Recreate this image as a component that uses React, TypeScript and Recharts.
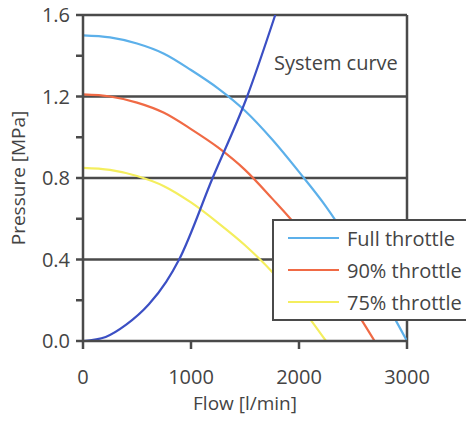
import {
  LineChart,
  Line,
  XAxis,
  YAxis,
  ReferenceLine,
  Label,
} from "recharts";

type Pt = { flow: number; pressure: number };

const fullThrottle: Pt[] = [
  { flow: 0, pressure: 1.5 },
  { flow: 250, pressure: 1.49 },
  { flow: 500, pressure: 1.46 },
  { flow: 750, pressure: 1.41 },
  { flow: 1000, pressure: 1.33 },
  { flow: 1250, pressure: 1.24 },
  { flow: 1500, pressure: 1.13 },
  { flow: 1750, pressure: 0.99 },
  { flow: 2000, pressure: 0.83 },
  { flow: 2250, pressure: 0.66 },
  { flow: 2500, pressure: 0.46 },
  { flow: 2750, pressure: 0.24 },
  { flow: 3000, pressure: 0.0 },
];

const throttle90: Pt[] = [
  { flow: 0, pressure: 1.21 },
  { flow: 250, pressure: 1.2 },
  { flow: 500, pressure: 1.17 },
  { flow: 750, pressure: 1.12 },
  { flow: 1000, pressure: 1.04 },
  { flow: 1250, pressure: 0.95 },
  { flow: 1500, pressure: 0.84 },
  { flow: 1750, pressure: 0.7 },
  { flow: 2000, pressure: 0.55 },
  { flow: 2250, pressure: 0.37 },
  { flow: 2500, pressure: 0.17 },
  { flow: 2700, pressure: 0.0 },
];

const throttle75: Pt[] = [
  { flow: 0, pressure: 0.85 },
  { flow: 250, pressure: 0.84 },
  { flow: 500, pressure: 0.81 },
  { flow: 750, pressure: 0.76 },
  { flow: 1000, pressure: 0.68 },
  { flow: 1250, pressure: 0.58 },
  { flow: 1500, pressure: 0.47 },
  { flow: 1750, pressure: 0.34 },
  { flow: 2000, pressure: 0.18 },
  { flow: 2250, pressure: 0.0 },
];

const systemCurve: Pt[] = [
  { flow: 0, pressure: 0.0 },
  { flow: 210, pressure: 0.02 },
  { flow: 400, pressure: 0.08 },
  { flow: 610, pressure: 0.18 },
  { flow: 770, pressure: 0.29 },
  { flow: 890, pressure: 0.4 },
  { flow: 1200, pressure: 0.8 },
  { flow: 1520, pressure: 1.2 },
  { flow: 1780, pressure: 1.6 },
];

const flowTicks = [0, 1000, 2000, 3000];
const pressureTicks = [0, 0.2, 0.4, 0.6, 0.8, 1.0, 1.2, 1.4, 1.6];
const gridLevels = [0.4, 0.8, 1.2, 1.6];

const seriesInfo = [
  { name: "Full throttle", color: "#5cb0ea" },
  { name: "90% throttle", color: "#f06a45" },
  { name: "75% throttle", color: "#f4ee5e" },
];

const axisColor = "#4a4a4a";
const textColor = "#444";
const font = "'Open Sans', sans-serif";
const fs = 20;

const PressureTick = (props: any) => {
  const { x, y, payload } = props;
  const v = payload.value as number;
  const major = Math.abs(Math.round(v * 10) % 4) === 0;
  if (!major) return null;
  return (
    <text
      x={x}
      y={y}
      dy={7}
      textAnchor="end"
      fill={textColor}
      fontSize={fs}
      fontFamily={font}
    >
      {v.toFixed(1)}
    </text>
  );
};

const PressureTitle = (props: any) => {
  const vb = props.viewBox;
  const cy = vb.y + vb.height / 2;
  return (
    <text
      x={25}
      y={cy}
      transform={`rotate(-90, 25, ${cy})`}
      textAnchor="middle"
      fill={textColor}
      fontSize={19}
      fontFamily={font}
    >
      Pressure [MPa]
    </text>
  );
};

const LegendBox = () => (
  <div
    style={{
      position: "absolute",
      left: 272,
      top: 219,
      border: `2px solid ${axisColor}`,
      background: "#fff",
      width: 202,
      height: 102,
      boxSizing: "border-box",
      padding: "1px 0 0 14px",
      fontFamily: font,
      fontSize: fs,
      color: textColor,
    }}
  >
    {seriesInfo.map((s) => (
      <div
        key={s.name}
        style={{ display: "flex", alignItems: "center", height: 32, whiteSpace: "nowrap" }}
      >
        <span
          style={{
            display: "inline-block",
            width: 51,
            height: 2,
            background: s.color,
            marginRight: 8,
          }}
        />
        <span>{s.name}</span>
      </div>
    ))}
  </div>
);

export default function App() {
  return (
    <div style={{ position: "relative", margin: -8, width: 474, height: 425, background: "#fff" }}>
      <LineChart
        width={474}
        height={425}
        margin={{ top: 15, right: 67, bottom: 0, left: 0 }}
      >
        <XAxis
          type="number"
          dataKey="flow"
          domain={[0, 3000]}
          ticks={flowTicks}
          allowDataOverflow
          stroke={axisColor}
          strokeWidth={2.5}
          tickSize={8}
          tickMargin={21}
          height={84}
          tick={{ fill: textColor, fontSize: fs, fontFamily: font }}
        >
          <Label
            value="Flow [l/min]"
            position="insideTop"
            offset={56}
            fill={textColor}
            fontSize={19}
            fontFamily={font}
          />
        </XAxis>
        <YAxis
          type="number"
          domain={[0, 1.6]}
          ticks={pressureTicks}
          allowDataOverflow
          stroke={axisColor}
          strokeWidth={2.5}
          tickSize={7}
          tickMargin={6}
          width={83}
          tick={<PressureTick />}
        >
          <Label content={<PressureTitle />} />
        </YAxis>
        {gridLevels.map((g) => (
          <ReferenceLine key={g} y={g} stroke={axisColor} strokeWidth={2.5} />
        ))}
        <ReferenceLine x={3000} stroke={axisColor} strokeWidth={2.5} />
        <Line
          data={fullThrottle}
          dataKey="pressure"
          name="Full throttle"
          type="monotone"
          stroke={seriesInfo[0].color}
          strokeWidth={2.2}
          dot={false}
          isAnimationActive={false}
        />
        <Line
          data={throttle90}
          dataKey="pressure"
          name="90% throttle"
          type="monotone"
          stroke={seriesInfo[1].color}
          strokeWidth={2.2}
          dot={false}
          isAnimationActive={false}
        />
        <Line
          data={throttle75}
          dataKey="pressure"
          name="75% throttle"
          type="monotone"
          stroke={seriesInfo[2].color}
          strokeWidth={2.2}
          dot={false}
          isAnimationActive={false}
        />
        <Line
          data={systemCurve}
          dataKey="pressure"
          name="System curve"
          type="monotone"
          stroke="#3b4fc4"
          strokeWidth={2.2}
          dot={false}
          isAnimationActive={false}
        />
      </LineChart>
      <LegendBox />
      <div
        style={{
          position: "absolute",
          left: 274,
          top: 49,
          fontFamily: font,
          fontSize: fs,
          color: textColor,
          lineHeight: "28px",
        }}
      >
        System curve
      </div>
    </div>
  );
}
